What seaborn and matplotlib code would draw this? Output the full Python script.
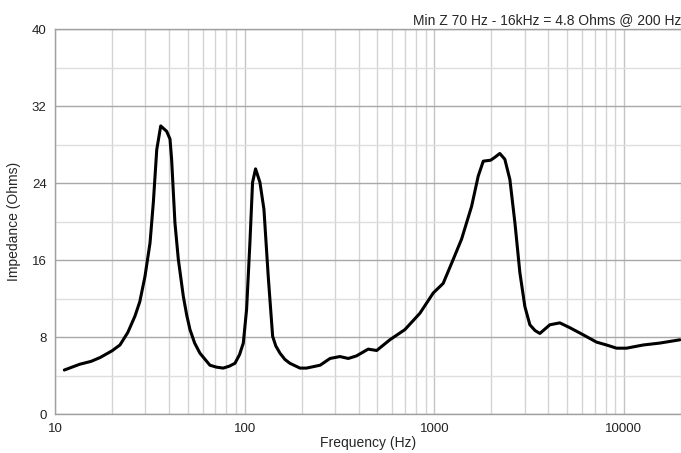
import matplotlib
matplotlib.use("Agg")
import matplotlib.pyplot as plt
from matplotlib.ticker import FixedLocator, NullFormatter
import seaborn as sns
import pandas as pd

# impedance curve
freq_hz = [11.2, 13.5, 15.5, 17.3, 20.0, 22.0, 24.2, 26.4, 28.0, 29.8, 31.7, 33.0,
           34.4, 36.1, 38.8, 40.4, 41.2, 42.9, 44.7, 47.5, 49.5, 51.5, 54.5, 58.1,
           65.6, 71.0, 77.1, 83.0, 88.9, 94.0, 98.4, 102.4, 106.6, 110.1, 114.2,
           120.4, 126.4, 133.2, 140.5, 146.0, 153.6, 163.0, 173.3, 195.8, 212, 250,
           282, 318, 352, 389, 448, 497, 583, 700, 840, 987, 1114, 1259, 1393, 1573,
           1705, 1813, 1983, 2086, 2216, 2355, 2504, 2662, 2828, 3004, 3192, 3400,
           3604, 4068, 4592, 5184, 6098, 7170, 8100, 9140, 10320, 12630, 15460, 19720]
impedance = [4.6, 5.2, 5.5, 5.9, 6.6, 7.2, 8.5, 10.2, 11.7, 14.3, 17.8, 22.0,
             27.5, 29.96, 29.4, 28.6, 26.5, 19.9, 16.1, 12.25, 10.3, 8.8, 7.4, 6.35,
             5.1, 4.9, 4.8, 5.0, 5.3, 6.2, 7.4, 10.9, 17.8, 24.1, 25.5,
             24.1, 21.3, 14.3, 8.1, 7.1, 6.35, 5.7, 5.3, 4.8, 4.8, 5.1,
             5.8, 6.0, 5.8, 6.07, 6.77, 6.63, 7.74, 8.8, 10.5, 12.6, 13.6, 16.1, 18.2, 21.6,
             24.75, 26.3, 26.4, 26.7, 27.1, 26.5, 24.4, 19.9, 14.7, 11.2, 9.3, 8.7,
             8.4, 9.3, 9.5, 9.0, 8.26, 7.5, 7.2, 6.87, 6.87, 7.2, 7.4, 7.74]

y_ticks = [0, 8, 16, 24, 32, 40]
x_ticks = [10, 100, 1000, 10000]

df = pd.DataFrame({"Frequency (Hz)": freq_hz, "Impedance (Ohms)": impedance})

sns.set_style("white")
plt.rcParams["font.family"] = ["Liberation Sans", "DejaVu Sans"]

fig = plt.figure(figsize=(6.81, 4.53), dpi=100)
ax = fig.add_axes([55 / 681, 1 - 414.3 / 453, 1 - 55 / 681, (414.3 - 29.3) / 453])

sns.lineplot(data=df, x="Frequency (Hz)", y="Impedance (Ohms)", ax=ax,
             color="black", lw=2.2, sort=False, zorder=3,
             solid_joinstyle="round", solid_capstyle="round")

ax.set_xscale("log")
ax.set_xlim(10, 20000)
ax.set_ylim(0, 40)

# grid: decades + 2..9, y major every 8 and minor every 4
minor_x = [m * 10 ** d for d in range(1, 5) for m in range(2, 10) if m * 10 ** d <= 20000]
ax.xaxis.set_major_locator(FixedLocator(x_ticks))
ax.xaxis.set_minor_locator(FixedLocator(minor_x))
ax.xaxis.set_minor_formatter(NullFormatter())
ax.set_xticklabels([str(t) for t in x_ticks])
ax.set_yticks(y_ticks)
ax.yaxis.set_minor_locator(FixedLocator([4, 12, 20, 28, 36]))
ax.grid(which="major", axis="x", color="#c4c4c4", lw=1.0)
ax.grid(which="minor", axis="x", color="#d4d4d4", lw=1.0)
ax.grid(which="major", axis="y", color="#a8a8a8", lw=1.0)
ax.grid(which="minor", axis="y", color="#dedede", lw=1.0)
ax.set_axisbelow(True)

for side in ["left", "bottom", "top"]:
    ax.spines[side].set_color("#a0a0a0")
    ax.spines[side].set_linewidth(1.0)
ax.spines["right"].set_visible(False)

ax.tick_params(which="both", length=0, labelsize=9.5, pad=6, labelcolor="#222222")
ax.set_xlabel("Frequency (Hz)", fontsize=10, labelpad=1)
ax.set_ylabel("Impedance (Ohms)", fontsize=10, labelpad=8)
ax.set_title("Min Z 70 Hz - 16kHz = 4.8 Ohms @ 200 Hz", loc="right", fontsize=10, pad=4)

fig.savefig("out.png", dpi=100)
